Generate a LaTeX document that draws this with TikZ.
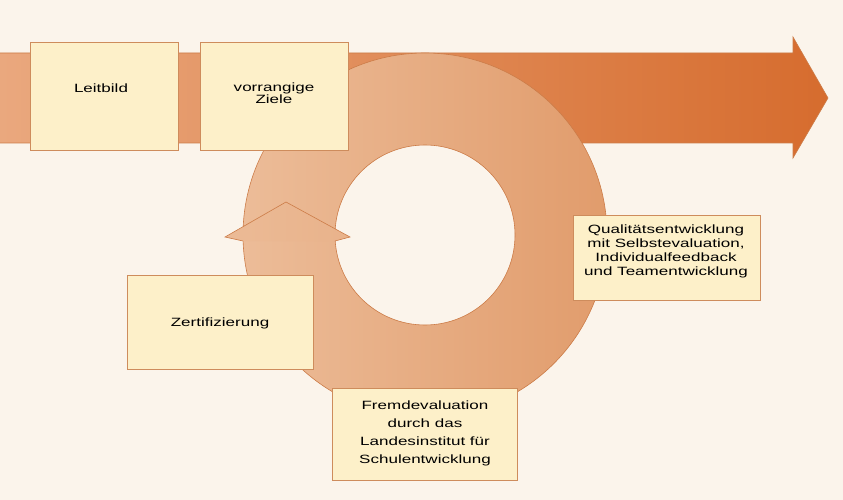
\documentclass[tikz,border=0pt]{standalone}
\usepackage{fontspec}
\setmainfont{Liberation Sans}[FakeStretch=1.42]
\definecolor{bg}{RGB}{251,244,235}
\definecolor{boxfill}{RGB}{253,240,201}
\definecolor{boxline}{RGB}{206,140,92}
\definecolor{bandL}{RGB}{234,168,126}
\definecolor{bandR}{RGB}{214,108,46}
\definecolor{ringL}{RGB}{236,188,152}
\definecolor{ringR}{RGB}{225,156,108}
\definecolor{ringline}{RGB}{204,124,72}
\tikzset{
  box/.style={draw=boxline, fill=boxfill, line width=0.7pt, inner sep=0pt},
  txt/.style={inner sep=0pt, align=center, text=black, font=\fontsize{12}{14}\selectfont},
}
\begin{document}
\begin{tikzpicture}[x=1pt,y=-1pt]
\fill[bg] (0,0) rectangle (843,500);
\useasboundingbox (0,0) rectangle (843,500);
% main horizontal arrow
\shade[left color=bandL, right color=bandR]
  (0,53) -- (793,53) -- (793,37) -- (828,98) -- (793,158) -- (793,143) -- (0,143) -- cycle;
\draw[ringline, line width=0.6pt]
  (0,53) -- (793,53) -- (793,37) -- (828,98) -- (793,158) -- (793,143) -- (0,143);
% circular ring
\shade[left color=ringL, right color=ringR, even odd rule]
  (425,235) circle (182) (425,235) circle (90);
\draw[ringline, line width=0.6pt] (425,235) circle (182);
\draw[ringline, line width=0.6pt] (425,235) circle (90);
% arrowhead of the ring
\shade[left color=ringL!95!ringR, right color=ringL!70!ringR]
  (243,241) -- (225,237) -- (286,202) -- (350,237) -- (335,241) -- cycle;
\draw[ringline, line width=0.6pt]
  (243,241) -- (225,237) -- (286,202) -- (350,237) -- (335,241);
% boxes
\node[box, minimum width=148pt, minimum height=108pt] (b1) at (104,96) {};
\node[box, minimum width=148pt, minimum height=108pt] (b2) at (274,96) {};
\node[box, minimum width=187pt, minimum height=85pt] (b3) at (666.5,257.5) {};
\node[box, minimum width=186pt, minimum height=94pt] (b4) at (220,322) {};
\node[box, minimum width=185pt, minimum height=92pt] (b5) at (424.5,434) {};
% texts
\node[txt] (t1) at (101,88) {Leitbild};
\node[txt, font=\fontsize{12}{12}\selectfont] (t2) at (274,93) {vorrangige\\Ziele};
\node[txt] (t3) at (666,251) {Qualitätsentwicklung\\mit Selbstevaluation,\\Individualfeedback\\und Teamentwicklung};
\node[txt] (t4) at (220,323) {Zertifizierung};
\node[txt, font=\fontsize{12}{18}\selectfont] (t5) at (425,433) {Fremdevaluation\\durch das\\Landesinstitut für\\Schulentwicklung};
\end{tikzpicture}
\end{document}
